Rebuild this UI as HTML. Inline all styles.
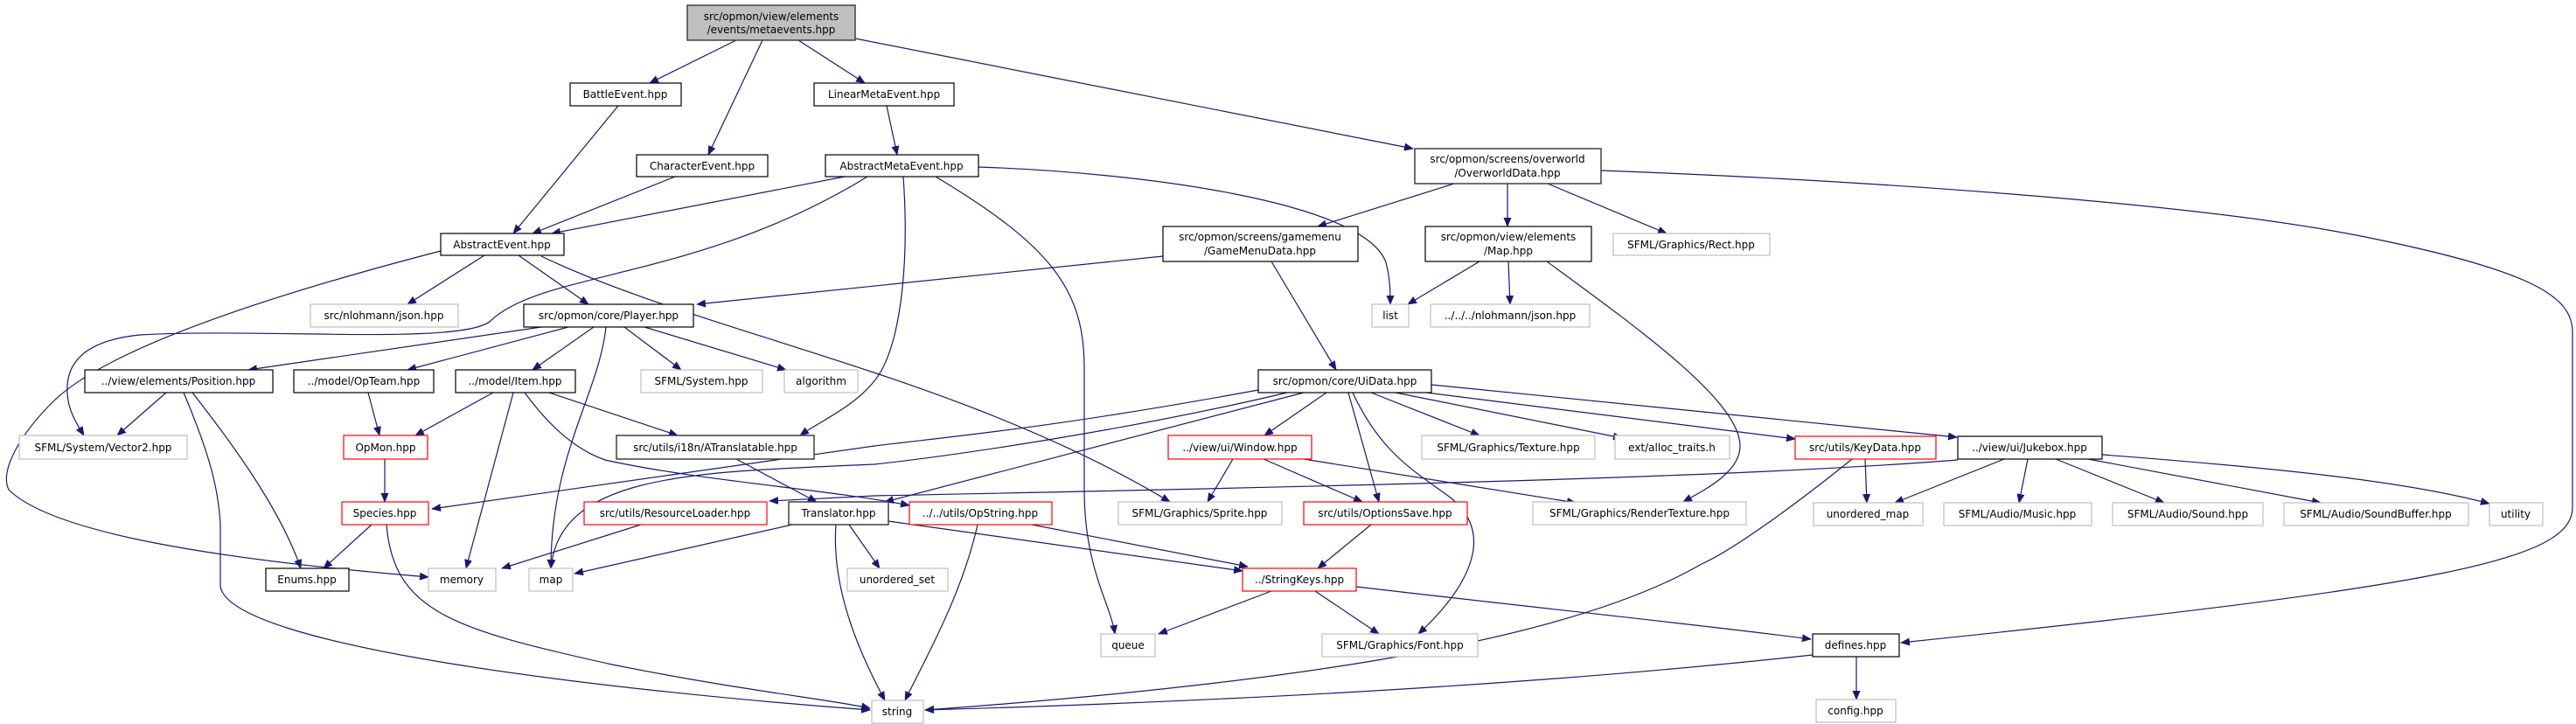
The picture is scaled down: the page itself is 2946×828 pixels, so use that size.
<!DOCTYPE html>
<html><head><meta charset="utf-8"><style>
html,body{margin:0;padding:0;background:#fff;}
svg{display:block;}
text{font-family:"DejaVu Sans","Liberation Sans",sans-serif;font-size:12px;fill:#000;text-anchor:middle;}
.e{fill:none;stroke:#191970;stroke-width:1.2;marker-end:url(#a);}
.n{fill:#fff;stroke:#000;stroke-width:1.2;}
.g{fill:#fff;stroke:#bfbfbf;stroke-width:1.2;}
.r{fill:#fff;stroke:#ff0000;stroke-width:1.2;}
.d{fill:#fff;stroke:#404040;stroke-width:1.5;}
</style></head><body>
<svg width="2946" height="828" viewBox="0 0 2946 828" xmlns="http://www.w3.org/2000/svg">
<defs><marker id="a" markerWidth="11" markerHeight="9" refX="10" refY="4.5" orient="auto" markerUnits="userSpaceOnUse"><path d="M0,0 L11,4.5 L0,9z" fill="#191970"/></marker></defs>
<g>
<path class="e" d="M842,46 L743,95"/>
<path class="e" d="M872,46 L810,177"/>
<path class="e" d="M913,46 L989,95"/>
<path class="e" d="M978,44 L1616,170"/>
<path class="e" d="M707,121 L587,267"/>
<path class="e" d="M772,202 L609,267"/>
<path class="e" d="M966,202 L631,267"/>
<path class="e" d="M1014,121 L1026,177"/>
<path class="e" d="M1119,191 C1300,197 1560,230 1585,300 C1590,320 1590,335 1590,348"/>
<path class="e" d="M1070,202 C1200,280 1240,330 1240,420 L1240,560 C1240,650 1270,690 1275,725"/>
<path class="e" d="M1033,202 C1040,300 1030,380 1010,420 C990,460 940,480 915,498"/>
<path class="e" d="M992,202 C800,320 620,310 561,367 C530,395 300,375 160,383 C90,390 75,420 77,450 C78,470 88,485 96,498"/>
<path class="e" d="M554,292 L466,348"/>
<path class="e" d="M593,292 L673,348"/>
<path class="e" d="M504,287 C300,340 120,400 60,460 C20,500 0,540 10,560 C60,610 250,640 490,660"/>
<path class="e" d="M619,293 C800,380 1100,430 1338,574"/>
<path class="e" d="M1330,293 L797,348"/>
<path class="e" d="M1454,299 L1528,423"/>
<path class="e" d="M1663,210 L1507,259"/>
<path class="e" d="M1724,210 L1724,259"/>
<path class="e" d="M1770,210 L1906,267"/>
<path class="e" d="M1831,195 C2100,205 2500,230 2700,270 C2900,310 2942,340 2942,380 L2942,580 C2942,640 2800,670 2174,735"/>
<path class="e" d="M1692,299 L1610,348"/>
<path class="e" d="M1725,299 L1727,348"/>
<path class="e" d="M1769,299 C1880,380 1990,460 1990,510 C1990,540 1950,560 1925,574"/>
<path class="e" d="M619,374 L284,423"/>
<path class="e" d="M650,374 L466,423"/>
<path class="e" d="M679,374 L609,423"/>
<path class="e" d="M693,374 C685,450 630,520 630,650"/>
<path class="e" d="M714,374 L779,423"/>
<path class="e" d="M737,374 L899,423"/>
<path class="e" d="M190,449 L134,498"/>
<path class="e" d="M220,449 C260,500 320,580 344,650"/>
<path class="e" d="M210,449 C240,520 250,560 252,600 L252,670 C260,740 700,790 995,812"/>
<path class="e" d="M421,449 L434,498"/>
<path class="e" d="M564,449 L475,498"/>
<path class="e" d="M587,449 L533,650"/>
<path class="e" d="M628,449 L775,498"/>
<path class="e" d="M600,449 C630,490 660,515 692,526 C800,550 950,560 1040,578"/>
<path class="e" d="M440,525 L440,574"/>
<path class="e" d="M425,600 L370,650"/>
<path class="e" d="M442,600 C450,700 520,720 700,760 C850,790 950,800 995,810"/>
<path class="e" d="M842,525 L934,574"/>
<path class="e" d="M733,600 L574,650"/>
<path class="e" d="M906,600 L657,656"/>
<path class="e" d="M971,600 L1006,650"/>
<path class="e" d="M956,600 C950,680 990,760 1012,801"/>
<path class="e" d="M1016,596 L1421,653"/>
<path class="e" d="M1180,600 L1427,648"/>
<path class="e" d="M1118,600 C1100,680 1060,750 1035,801"/>
<path class="e" d="M1439,446 C1200,490 1080,500 1000,510 L494,582"/>
<path class="e" d="M1472,449 C1300,490 1100,520 1000,531 C800,540 640,540 630,650"/>
<path class="e" d="M1491,449 L1012,574"/>
<path class="e" d="M1517,449 L1446,498"/>
<path class="e" d="M1542,449 L1577,574"/>
<path class="e" d="M1547,449 C1580,520 1620,540 1660,570 C1720,620 1660,690 1622,725"/>
<path class="e" d="M1568,449 L1692,498"/>
<path class="e" d="M1596,449 L1855,501"/>
<path class="e" d="M1631,449 L2053,502"/>
<path class="e" d="M1637,440 L2238,500"/>
<path class="e" d="M1410,525 L1381,574"/>
<path class="e" d="M1445,525 L1558,574"/>
<path class="e" d="M1491,525 L1802,575"/>
<path class="e" d="M1568,600 L1507,650"/>
<path class="e" d="M1454,676 L1325,725"/>
<path class="e" d="M1504,676 L1577,725"/>
<path class="e" d="M1551,671 C1800,700 1950,715 2071,731"/>
<path class="e" d="M2133,525 L2135,575"/>
<path class="e" d="M2118,525 C2050,580 1980,630 1946,645 C1800,730 1500,780 1058,812"/>
<path class="e" d="M2239,526 C2000,545 1600,555 1000,567 L880,573"/>
<path class="e" d="M2292,525 L2167,575"/>
<path class="e" d="M2319,525 L2309,575"/>
<path class="e" d="M2351,525 L2475,575"/>
<path class="e" d="M2388,525 L2654,575"/>
<path class="e" d="M2404,520 C2600,535 2750,550 2847,576"/>
<path class="e" d="M2073,749 C1700,790 1300,805 1058,812"/>
<path class="e" d="M2123,751 L2123,800"/>
</g>
<g>
<rect x="786" y="6" width="192" height="40" fill="#bfbfbf" stroke="#404040" stroke-width="1.5"/>
<text x="882" y="23">src/opmon/view/elements</text><text x="882" y="38">/events/metaevents.hpp</text>

<rect class="n" x="652" y="95" width="127" height="26"/><text x="715" y="112">BattleEvent.hpp</text>
<rect class="n" x="931" y="95" width="160" height="26"/><text x="1011" y="112">LinearMetaEvent.hpp</text>
<rect class="n" x="728" y="177" width="150" height="25"/><text x="803" y="194">CharacterEvent.hpp</text>
<rect class="n" x="944" y="177" width="175" height="25"/><text x="1031" y="194">AbstractMetaEvent.hpp</text>
<rect class="n" x="504" y="267" width="141" height="25"/><text x="574" y="284">AbstractEvent.hpp</text>
<rect class="g" x="355" y="348" width="169" height="26"/><text x="439" y="365">src/nlohmann/json.hpp</text>
<rect class="n" x="599" y="348" width="194" height="26"/><text x="696" y="365">src/opmon/core/Player.hpp</text>
<rect class="n" x="97" y="423" width="215" height="26"/><text x="204" y="440">../view/elements/Position.hpp</text>
<rect class="n" x="336" y="423" width="160" height="26"/><text x="416" y="440">../model/OpTeam.hpp</text>
<rect class="n" x="521" y="423" width="137" height="26"/><text x="589" y="440">../model/Item.hpp</text>
<rect class="g" x="733" y="423" width="139" height="26"/><text x="802" y="440">SFML/System.hpp</text>
<rect class="g" x="897" y="423" width="84" height="26"/><text x="939" y="440">algorithm</text>
<rect class="g" x="22" y="498" width="192" height="27"/><text x="118" y="516">SFML/System/Vector2.hpp</text>
<rect class="r" x="393" y="498" width="96" height="27"/><text x="441" y="516">OpMon.hpp</text>
<rect class="d" x="705" y="498" width="226" height="27"/><text x="818" y="516">src/utils/i18n/ATranslatable.hpp</text>
<rect class="r" x="391" y="574" width="99" height="26"/><text x="440" y="591">Species.hpp</text>
<rect class="r" x="668" y="574" width="209" height="26"/><text x="772" y="591">src/utils/ResourceLoader.hpp</text>
<rect class="d" x="902" y="574" width="114" height="26"/><text x="959" y="591">Translator.hpp</text>
<rect class="n" x="304" y="650" width="95" height="26"/><text x="351" y="667">Enums.hpp</text>
<rect class="g" x="490" y="650" width="77" height="26"/><text x="528" y="667">memory</text>
<rect class="g" x="605" y="650" width="50" height="26"/><text x="630" y="667">map</text>
<rect class="g" x="969" y="650" width="115" height="26"/><text x="1026" y="667">unordered_set</text>
<rect class="g" x="997" y="801" width="59" height="26"/><text x="1026" y="818">string</text>

<rect class="d" x="1618" y="170" width="213" height="40"/>
<text x="1724" y="186">src/opmon/screens/overworld</text><text x="1724" y="202">/OverworldData.hpp</text>
<rect class="n" x="1330" y="259" width="223" height="40"/>
<text x="1441" y="275">src/opmon/screens/gamemenu</text><text x="1441" y="291">/GameMenuData.hpp</text>
<rect class="n" x="1630" y="259" width="190" height="40"/>
<text x="1725" y="275">src/opmon/view/elements</text><text x="1725" y="291">/Map.hpp</text>
<rect class="g" x="1845" y="267" width="179" height="25"/><text x="1934" y="284">SFML/Graphics/Rect.hpp</text>
<rect class="g" x="1569" y="348" width="42" height="26"/><text x="1590" y="365">list</text>
<rect class="g" x="1636" y="348" width="182" height="26"/><text x="1727" y="365">../../../nlohmann/json.hpp</text>
<rect class="n" x="1439" y="423" width="198" height="26"/><text x="1538" y="440">src/opmon/core/UiData.hpp</text>
<rect class="r" x="1336" y="498" width="164" height="27"/><text x="1418" y="516">../view/ui/Window.hpp</text>
<rect class="g" x="1626" y="498" width="198" height="27"/><text x="1725" y="516">SFML/Graphics/Texture.hpp</text>
<rect class="g" x="1847" y="498" width="131" height="27"/><text x="1912" y="516">ext/alloc_traits.h</text>
<rect class="r" x="2053" y="499" width="161" height="26"/><text x="2133" y="516">src/utils/KeyData.hpp</text>
<rect class="n" x="2239" y="499" width="165" height="26"/><text x="2321" y="516">../view/ui/Jukebox.hpp</text>
<rect class="r" x="1040" y="574" width="163" height="26"/><text x="1121" y="591">../../utils/OpString.hpp</text>
<rect class="g" x="1279" y="574" width="187" height="26"/><text x="1372" y="591">SFML/Graphics/Sprite.hpp</text>
<rect class="r" x="1491" y="574" width="187" height="26"/><text x="1584" y="591">src/utils/OptionsSave.hpp</text>
<rect class="g" x="1753" y="574" width="244" height="26"/><text x="1875" y="591">SFML/Graphics/RenderTexture.hpp</text>
<rect class="g" x="2074" y="575" width="125" height="26"/><text x="2136" y="592">unordered_map</text>
<rect class="g" x="2223" y="575" width="169" height="26"/><text x="2307" y="592">SFML/Audio/Music.hpp</text>
<rect class="g" x="2416" y="575" width="172" height="26"/><text x="2502" y="592">SFML/Audio/Sound.hpp</text>
<rect class="g" x="2612" y="575" width="211" height="26"/><text x="2717" y="592">SFML/Audio/SoundBuffer.hpp</text>
<rect class="g" x="2847" y="575" width="61" height="26"/><text x="2877" y="592">utility</text>
<rect class="r" x="1421" y="650" width="130" height="26"/><text x="1486" y="667">../StringKeys.hpp</text>
<rect class="g" x="1259" y="725" width="62" height="26"/><text x="1290" y="742">queue</text>
<rect class="g" x="1512" y="725" width="178" height="26"/><text x="1601" y="742">SFML/Graphics/Font.hpp</text>
<rect class="n" x="2073" y="725" width="99" height="26"/><text x="2122" y="742">defines.hpp</text>
<rect class="g" x="2077" y="800" width="91" height="26"/><text x="2122" y="817">config.hpp</text>
</g>
</svg>
</body></html>
